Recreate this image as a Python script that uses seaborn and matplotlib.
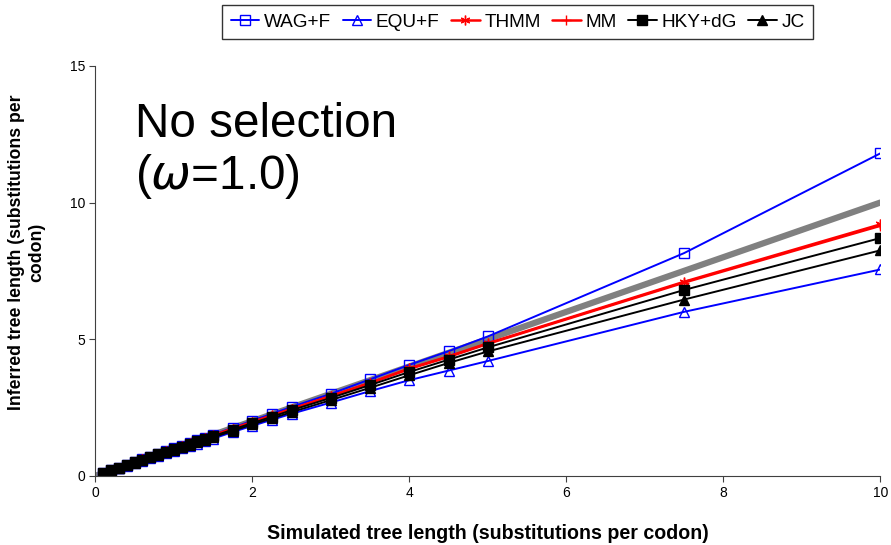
import matplotlib
matplotlib.use("Agg")
import matplotlib.pyplot as plt
import seaborn as sns
import numpy as np

# simulated tree length
sim = [0.1, 0.2, 0.3, 0.4, 0.5, 0.6, 0.7, 0.8, 0.9, 1.0, 1.1, 1.2, 1.3, 1.4, 1.5,
       1.75, 2.0, 2.25, 2.5, 3.0, 3.5, 4.0, 4.5, 5.0, 7.5, 10.0]

wag_f = [0.1, 0.2, 0.3, 0.4, 0.5, 0.6, 0.7, 0.8, 0.9, 1.0, 1.1, 1.2, 1.3, 1.4, 1.5,
         1.76, 2.02, 2.27, 2.52, 3.0, 3.53, 4.06, 4.56, 5.1, 8.15, 11.8]
equ_f = [0.09, 0.18, 0.27, 0.36, 0.45, 0.55, 0.64, 0.73, 0.82, 0.91, 1.0, 1.09, 1.18, 1.27, 1.36,
         1.6, 1.83, 2.05, 2.27, 2.68, 3.1, 3.5, 3.85, 4.2, 6.0, 7.55]
thmm = [0.1, 0.2, 0.3, 0.4, 0.5, 0.6, 0.7, 0.8, 0.9, 0.99, 1.09, 1.19, 1.29, 1.38, 1.48,
        1.73, 1.97, 2.21, 2.45, 2.92, 3.4, 3.93, 4.37, 4.85, 7.1, 9.2]
mm = [0.1, 0.2, 0.3, 0.4, 0.5, 0.6, 0.7, 0.8, 0.9, 0.99, 1.09, 1.18, 1.28, 1.38, 1.47,
      1.72, 1.96, 2.2, 2.44, 2.91, 3.39, 3.91, 4.35, 4.83, 7.07, 9.15]
hky_dg = [0.1, 0.2, 0.3, 0.39, 0.49, 0.59, 0.69, 0.78, 0.88, 0.97, 1.07, 1.16, 1.26, 1.35, 1.45,
          1.69, 1.93, 2.16, 2.4, 2.85, 3.32, 3.8, 4.25, 4.7, 6.8, 8.7]
jc = [0.09, 0.19, 0.29, 0.38, 0.48, 0.57, 0.67, 0.76, 0.86, 0.95, 1.04, 1.13, 1.22, 1.31, 1.41,
      1.64, 1.88, 2.1, 2.33, 2.77, 3.22, 3.68, 4.13, 4.55, 6.45, 8.25]

ref_x = [0, 10]
ref_y = [0, 10]

sns.set_style("ticks")
plt.rcParams['font.family'] = ['Liberation Sans', 'DejaVu Sans']
plt.rcParams['text.color'] = 'black'
plt.rcParams['axes.labelcolor'] = 'black'
plt.rcParams['xtick.color'] = 'black'
plt.rcParams['ytick.color'] = 'black'

fig = plt.figure(figsize=(8.91, 5.45), dpi=100)
ax = fig.add_axes([0.107, 0.127, 0.881, 0.752])

# y = x reference
sns.lineplot(x=ref_x, y=ref_y, color='#808080', linewidth=4.5, ax=ax, legend=False)

series = [
    ("WAG+F", wag_f, '#0000FF', 's', 'none', 1.4),
    ("EQU+F", equ_f, '#0000FF', '^', 'none', 1.4),
    ("THMM", thmm, '#FF0000', (6, 2, 0), '#FF0000', 1.8),
    ("MM", mm, '#FF0000', '+', '#FF0000', 1.8),
    ("HKY+dG", hky_dg, '#000000', 's', '#000000', 1.4),
    ("JC", jc, '#000000', '^', '#000000', 1.4),
]
for name, vals, col, mk, fc, lw in series:
    sns.lineplot(x=sim, y=vals, color=col, marker=mk, markersize=7,
                 markerfacecolor=fc, markeredgecolor=col, markeredgewidth=1.0,
                 linewidth=lw, label=name, ax=ax)

ax.set_xlim(0, 10)
ax.set_ylim(0, 15)
ax.set_xticks([0, 2, 4, 6, 8, 10])
ax.set_yticks([0, 5, 10, 15])
ax.tick_params(labelsize=10, length=4, color='#404040')
for s in ['left', 'bottom']:
    ax.spines[s].set_color('#404040')
sns.despine(ax=ax)

ax.set_xlabel("Simulated tree length (substitutions per codon)", fontsize=14.1,
              fontweight='bold', labelpad=17)
ax.set_ylabel("Inferred tree length (substitutions per\ncodon)", fontsize=12.7,
              fontweight='bold')
ax.yaxis.set_label_coords(-0.064, 0.545)

ax.text(0.51, 12.4, "No selection", fontsize=34.3, va='baseline', ha='left')
ax.text(0.51, 10.5, r"($\omega$=1.0)", fontsize=34.3, va='baseline', ha='left')

leg = fig.legend(loc='upper center', bbox_to_anchor=(0.581, 0.991), ncol=6,
                 fontsize=13.7, frameon=True, fancybox=False, edgecolor='black',
                 handlelength=1.5, handletextpad=0.25, columnspacing=0.6,
                 borderpad=0.45, borderaxespad=0)
leg.get_frame().set_linewidth(1.0)
ax.get_legend().remove()

fig.savefig("out.png", dpi=100)
